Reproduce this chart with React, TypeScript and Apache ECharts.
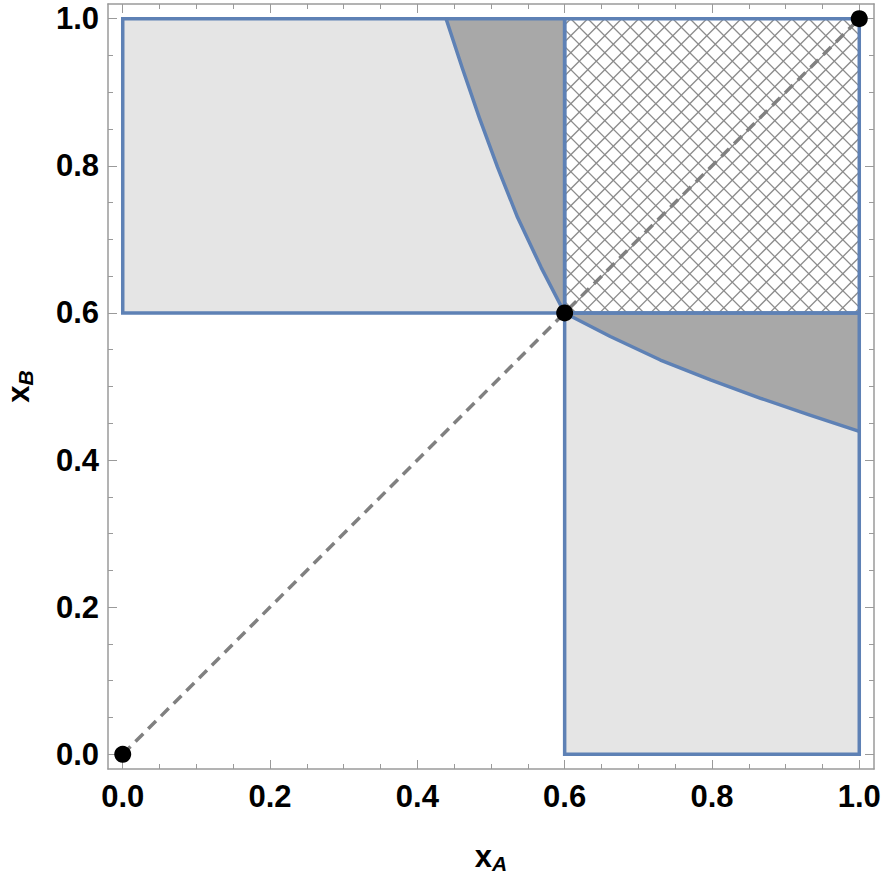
import React, { useEffect, useRef } from "react";
import * as echarts from "echarts";

// ---- data ----
const majorTicks = [0, 0.2, 0.4, 0.6, 0.8, 1.0];
const minorTicks = [0.05, 0.1, 0.15, 0.25, 0.3, 0.35, 0.45, 0.5, 0.55, 0.65, 0.7, 0.75, 0.85, 0.9, 0.95];
const axisMin = -0.02;
const axisMax = 1.02;

// light rectangles [x0, y0, x1, y1]
const lightRects = [
  [0, 0.6, 0.6, 1],
  [0.6, 0, 1, 0.6],
];
// hatched rectangle [x0, y0, x1, y1]
const hatchRects = [[0.6, 0.6, 1, 1]];

// boundary curves
const lowerCurve = [
  [0.6, 0.6], [0.662, 0.568], [0.73, 0.536], [0.798, 0.509], [0.866, 0.484], [0.933, 0.461], [1.0, 0.439],
];
const upperCurve = [
  [0.6, 0.6], [0.568, 0.662], [0.536, 0.73], [0.509, 0.798], [0.484, 0.866], [0.461, 0.933], [0.439, 1.0],
];
const lowerCorner = [1, 0.6];
const upperCorner = [0.6, 1];

const diagonal = [[0, 0], [1, 1]];
const points = [[0, 0], [0.6, 0.6], [1, 1]];

// ---- styles ----
const BLUE = "#5e81b5";
const LIGHT = "#e5e5e5";
const DARK = "#a8a8a8";
const FRAME = "#9a9a9a";
const FONT = "Liberation Sans";

const darkPolygons = [
  [...lowerCurve, lowerCorner],
  [...upperCurve, upperCorner],
];

function rectShape(api: any) {
  const p0 = api.coord([api.value(0), api.value(3)]);
  const p1 = api.coord([api.value(2), api.value(1)]);
  return { x: p0[0], y: p0[1], width: p1[0] - p0[0], height: p1[1] - p0[1] };
}

function makeAxis(pos: "bottom" | "top" | "left" | "right", kind: "major" | "minor", labels: boolean) {
  return {
    type: "value",
    position: pos,
    min: axisMin,
    max: axisMax,
    splitLine: { show: false },
    axisLine: { show: kind === "major", onZero: false, lineStyle: { color: FRAME, width: 1.5 } },
    axisTick: {
      show: true,
      inside: true,
      length: kind === "major" ? 9 : 5,
      customValues: kind === "major" ? majorTicks : minorTicks,
      lineStyle: { color: FRAME, width: 1 },
    },
    axisLabel: labels
      ? {
          show: true,
          customValues: majorTicks,
          formatter: (v: number) => v.toFixed(1),
          color: "#000",
          fontFamily: FONT,
          fontWeight: "bold",
          fontSize: 31,
          margin: pos === "bottom" ? 12 : 9,
        }
      : { show: false },
  };
}

const nameRich = () => ({
  rich: {
    x: { fontFamily: FONT, fontWeight: "bold", fontSize: 31, color: "#000" },
    s: { fontFamily: FONT, fontWeight: "bold", fontStyle: "italic", fontSize: 21, color: "#000", padding: [14, 0, 0, 0] },
  },
});

export default function App() {
  const ref = useRef<HTMLDivElement>(null);
  useEffect(() => {
    if (!ref.current) return;
    const chart = echarts.init(ref.current, undefined, { renderer: "svg" });
    const xMain: any = makeAxis("bottom", "major", true);
    xMain.name = "{x|x}{s|A}";
    xMain.nameLocation = "middle";
    xMain.nameGap = 70;
    xMain.nameTextStyle = nameRich();
    const yMain: any = makeAxis("left", "major", true);
    yMain.name = "{x|x}{s|B}";
    yMain.nameLocation = "middle";
    yMain.nameGap = 72;
    yMain.nameRotate = 90;
    yMain.nameTextStyle = nameRich();

    const option: any = {
      animation: false,
      backgroundColor: "#fff",
      grid: { left: 108, top: 4, width: 766, height: 765, containLabel: false, outerBoundsMode: "none" },
      xAxis: [
        xMain,
        makeAxis("bottom", "minor", false),
        makeAxis("top", "major", false),
        makeAxis("top", "minor", false),
      ],
      yAxis: [
        yMain,
        makeAxis("left", "minor", false),
        makeAxis("right", "major", false),
        makeAxis("right", "minor", false),
      ],
      series: [
        {
          type: "custom",
          name: "light",
          data: lightRects,
          encode: { x: [0, 2], y: [1, 3] },
          z: 1,
          renderItem: (params: any, api: any) => ({
            type: "rect",
            shape: rectShape(api),
            style: { fill: LIGHT, stroke: null },
          }),
        },
        {
          type: "custom",
          name: "dark",
          data: darkPolygons.map((_, i) => [i]),
          z: 2,
          renderItem: (params: any, api: any) => {
            const poly = darkPolygons[params.dataIndex];
            return {
              type: "polygon",
              shape: { points: poly.map((p) => api.coord(p)) },
              style: { fill: DARK, stroke: null },
            };
          },
        },
        {
          type: "custom",
          name: "hatch",
          data: hatchRects,
          encode: { x: [0, 2], y: [1, 3] },
          z: 3,
          renderItem: (params: any, api: any) => {
            const r = rectShape(api);
            const step = 17;
            const children: any[] = [];
            const span = r.width + r.height;
            for (let d = -span; d <= span; d += step) {
              children.push({
                type: "line",
                shape: { x1: r.x + d, y1: r.y, x2: r.x + d + span, y2: r.y + span },
                style: { stroke: "#8c8c8c", lineWidth: 1.3 },
              });
              children.push({
                type: "line",
                shape: { x1: r.x + d, y1: r.y, x2: r.x + d - span, y2: r.y + span },
                style: { stroke: "#8c8c8c", lineWidth: 1.3 },
              });
            }
            return {
              type: "group",
              clipPath: { type: "rect", shape: { x: r.x, y: r.y, width: r.width, height: r.height } },
              children,
            };
          },
        },
        {
          type: "custom",
          name: "outlines",
          data: [...lightRects, ...hatchRects],
          encode: { x: [0, 2], y: [1, 3] },
          z: 4,
          renderItem: (params: any, api: any) => ({
            type: "rect",
            shape: rectShape(api),
            style: { fill: null, stroke: BLUE, lineWidth: 3.5 },
          }),
        },
        {
          type: "line",
          name: "lowerCurve",
          data: lowerCurve,
          smooth: false,
          symbol: "none",
          z: 5,
          lineStyle: { color: BLUE, width: 3.5, join: "round" },
        },
        {
          type: "line",
          name: "upperCurve",
          data: upperCurve,
          smooth: false,
          symbol: "none",
          z: 5,
          lineStyle: { color: BLUE, width: 3.5, join: "round" },
        },
        {
          type: "line",
          name: "diagonal",
          data: diagonal,
          symbol: "none",
          z: 6,
          lineStyle: { color: "#808080", width: 3.5, type: [11, 7] },
        },
        {
          type: "scatter",
          name: "points",
          data: points,
          symbol: "circle",
          symbolSize: 17,
          z: 7,
          itemStyle: { color: "#000", opacity: 1 },
        },
      ],
    };
    chart.setOption(option);
    return () => chart.dispose();
  }, []);
  return (
    <div
      ref={ref}
      style={{ position: "fixed", left: 0, top: 0, width: 885, height: 875, background: "#fff" }}
    />
  );
}
